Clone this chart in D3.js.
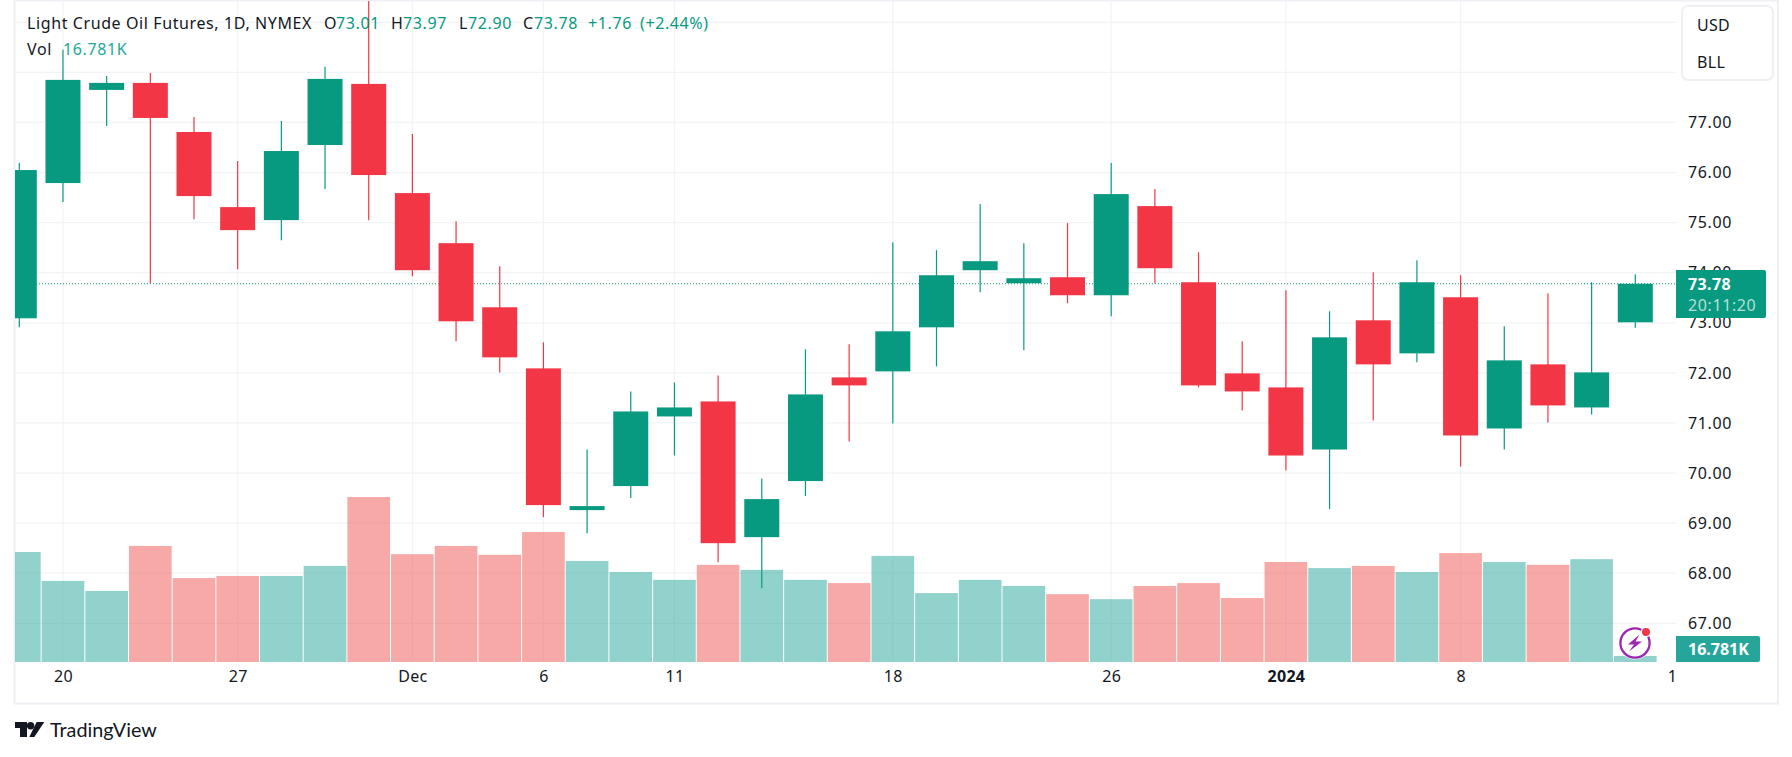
<!DOCTYPE html>
<html>
<head>
  <meta charset="utf-8">
  <script src="https://d3js.org/d3.v7.min.js"></script>
  <style>
    body { margin: 0; background: #fff; }
    text { font-family: "Noto Sans", sans-serif; fill: #131722; }
  </style>
</head>
<body>
  <svg width="1792" height="757"></svg>
  <script>
    // Daily bars, Nov 17 2023 - Jan 12 2024
    const dates = ['Nov 17', 'Nov 20', 'Nov 21', 'Nov 22', 'Nov 24', 'Nov 27', 'Nov 28', 'Nov 29', 'Nov 30',
      'Dec 1', 'Dec 4', 'Dec 5', 'Dec 6', 'Dec 7', 'Dec 8', 'Dec 11', 'Dec 12', 'Dec 13', 'Dec 14', 'Dec 15',
      'Dec 18', 'Dec 19', 'Dec 20', 'Dec 21', 'Dec 22', 'Dec 26', 'Dec 27', 'Dec 28', 'Dec 29',
      'Jan 2', 'Jan 3', 'Jan 4', 'Jan 5', 'Jan 8', 'Jan 9', 'Jan 10', 'Jan 11', 'Jan 12'];
    const opens = [73.09, 75.79, 77.65, 77.79, 76.81, 75.31, 75.05, 76.55, 77.77,
      75.59, 74.59, 73.31, 72.09, 69.26, 69.74, 71.13, 71.43, 68.72, 69.84, 71.91,
      72.03, 72.91, 74.05, 73.79, 73.91, 73.55, 75.33, 73.81, 71.99,
      71.71, 70.47, 73.05, 72.39, 73.51, 70.89, 72.17, 71.31, 73.01];
    const highs = [76.19, 78.45, 77.93, 77.99, 77.11, 76.23, 77.03, 78.11, 79.50,
      76.77, 75.03, 74.13, 72.61, 70.47, 71.63, 71.81, 71.95, 69.89, 72.47, 72.57,
      74.61, 74.45, 75.37, 74.59, 74.99, 76.19, 75.67, 74.41, 72.63,
      73.65, 73.23, 74.01, 74.25, 73.95, 72.93, 73.59, 73.81, 73.97];
    const lows = [72.91, 75.41, 76.93, 73.79, 75.07, 74.07, 74.65, 75.67, 75.05,
      73.93, 72.63, 72.01, 69.12, 68.80, 69.50, 70.35, 68.22, 67.70, 69.54, 70.63,
      70.99, 72.13, 73.61, 72.45, 73.39, 73.13, 73.79, 71.71, 71.25,
      70.05, 69.28, 71.05, 72.21, 70.13, 70.47, 71.01, 71.17, 72.90];
    const closes = [76.05, 77.85, 77.79, 77.09, 75.53, 74.85, 76.43, 77.87, 75.95,
      74.05, 73.03, 72.31, 69.36, 69.34, 71.23, 71.31, 68.60, 69.48, 71.57, 71.75,
      72.83, 73.95, 74.23, 73.89, 73.55, 75.57, 74.09, 71.75, 71.63,
      70.35, 72.71, 72.17, 73.81, 70.75, 72.25, 71.35, 72.01, 73.78];
    // volume in thousands
    const volumes = [308, 227, 199, 325, 235, 241, 241, 269, 462,
      302, 325, 300, 364, 283, 252, 230, 272, 258, 230, 221,
      297, 193, 230, 213, 190, 176, 213, 221, 179,
      280, 263, 269, 252, 305, 280, 272, 288, 16.781];

    const priceTicks = [67, 68, 69, 70, 71, 72, 73, 74, 75, 76, 77];
    const gridPrices = [67, 68, 69, 70, 71, 72, 73, 74, 75, 76, 77, 78, 79];
    const timeTickPos = [1, 5, 9, 12, 15, 20, 25, 29, 33, 38];
    const timeTickText = ['20', '27', 'Dec', '6', '11', '18', '26', '2024', '8', '1'];

    const lastPrice = 73.78;
    const legendTop = [['Light Crude Oil Futures, 1D, NYMEX', 27, 0], ['O', 324, 0], ['73.01', 336, 1], ['H', 391, 0], ['73.97', 403, 1],
      ['L', 459, 0], ['72.90', 468, 1], ['C', 523, 0], ['73.78', 534, 1], ['+1.76', 588, 1], ['(+2.44%)', 640, 1]];

    const green = '#089981', red = '#f23645';
    const gridColor = '#f2f3f6', borderColor = '#eff0f5';

    const pane = {left: 15, right: 1676, top: 1, bottom: 662};

    const svg = d3.select('svg');
    svg.append('defs').append('clipPath').attr('id', 'pane').append('rect')
      .attr('x', pane.left).attr('y', pane.top)
      .attr('width', pane.right - pane.left).attr('height', pane.bottom - pane.top);

    const x = d3.scaleLinear().domain([0, 37]).range([19.3, 1635.3]);
    const y = d3.scaleLinear().domain([79, 67]).range([22.3, 623.3]);
    const yVol = d3.scaleLinear().domain([0, 462]).range([pane.bottom, 497]);

    const idx = d3.range(dates.length);
    const isUp = i => closes[i] >= opens[i];
    const step = x(1) - x(0);

    // outer frame
    const frame = svg.append('g').attr('fill', 'none').attr('stroke', borderColor).attr('stroke-width', 2);
    frame.append('path').attr('d', `M14.5,0.5H1778V703.5H14.5Z`);

    const plot = svg.append('g').attr('clip-path', 'url(#pane)');

    // grid
    plot.append('g').selectAll('line').data(gridPrices).enter().append('line')
      .attr('x1', pane.left).attr('x2', pane.right)
      .attr('y1', d => y(d)).attr('y2', d => y(d))
      .attr('stroke', gridColor).attr('stroke-width', 1.2);
    plot.append('g').selectAll('line').data(timeTickPos.slice(0, -1)).enter().append('line')
      .attr('x1', d => x(d)).attr('x2', d => x(d))
      .attr('y1', pane.top).attr('y2', pane.bottom)
      .attr('stroke', gridColor).attr('stroke-width', 1.2);

    // volume
    plot.append('g').selectAll('rect').data(idx).enter().append('rect')
      .attr('x', i => x(i) - step / 2 + 0.5)
      .attr('width', step - 1)
      .attr('y', i => yVol(volumes[i]))
      .attr('height', i => pane.bottom - yVol(volumes[i]))
      .attr('fill', i => isUp(i) ? 'rgba(38,166,154,0.5)' : 'rgba(239,83,80,0.5)');

    // last price line
    plot.append('line')
      .attr('x1', pane.left).attr('x2', pane.right)
      .attr('y1', y(lastPrice)).attr('y2', y(lastPrice))
      .attr('stroke', green).attr('stroke-width', 1).attr('stroke-dasharray', '1 2');

    // candles
    const candles = plot.append('g');
    candles.selectAll('line').data(idx).enter().append('line')
      .attr('x1', i => x(i)).attr('x2', i => x(i))
      .attr('y1', i => y(highs[i])).attr('y2', i => y(lows[i]))
      .attr('stroke', i => isUp(i) ? green : red).attr('stroke-width', 1.2);
    candles.selectAll('rect').data(idx).enter().append('rect')
      .attr('x', i => x(i) - 17.5).attr('width', 35)
      .attr('y', i => y(Math.max(opens[i], closes[i])))
      .attr('height', i => Math.abs(y(opens[i]) - y(closes[i])))
      .attr('fill', i => isUp(i) ? green : red);

    // price axis
    const yAxis = svg.append('g').attr('transform', `translate(${pane.right},0)`)
      .call(d3.axisRight(y).tickValues(priceTicks).tickFormat(d3.format('.2f')).tickSize(0).tickPadding(12));
    yAxis.select('.domain').remove();
    yAxis.selectAll('text').style('font-family', '"Noto Sans", sans-serif').style('font-size', '16px')
      .style('letter-spacing', '0.6px').attr('fill', '#131722');

    // time axis
    const xAxis = svg.append('g').attr('transform', `translate(0,${pane.bottom})`)
      .call(d3.axisBottom(x).tickValues(timeTickPos).tickFormat((d, i) => timeTickText[i]).tickSize(0).tickPadding(9));
    xAxis.select('.domain').remove();
    xAxis.selectAll('text').style('font-family', '"Noto Sans", sans-serif').style('font-size', '16px')
      .style('letter-spacing', '0.3px').attr('fill', '#131722')
      .style('font-weight', (d, i) => timeTickText[i] === '2024' ? 700 : 400);
    // the future tick is pushed back inside the pane
    xAxis.selectAll('.tick').filter(d => d === 38).attr('transform', `translate(${pane.right - 3.5},0)`);

    // last price tag
    const tag = svg.append('g');
    tag.append('path').attr('d', 'M1676,270H1764a2,2 0 0 1 2,2V316a2,2 0 0 1 -2,2H1676Z').attr('fill', green);
    tag.append('text').attr('x', 1688).attr('y', 290).attr('font-size', 16).attr('font-weight', 700)
      .style('fill', '#fff').style('letter-spacing', '0.4px').text(d3.format('.2f')(lastPrice));
    tag.append('text').attr('x', 1688).attr('y', 311).attr('font-size', 16)
      .style('fill', 'rgba(255,255,255,0.7)').style('letter-spacing', '0.6px').text('20:11:20');

    // volume tag
    const volTag = svg.append('g');
    volTag.append('path').attr('d', 'M1676,636H1758a2,2 0 0 1 2,2V660a2,2 0 0 1 -2,2H1676Z').attr('fill', '#26a69a');
    volTag.append('text').attr('x', 1688).attr('y', 655).attr('font-size', 16).attr('font-weight', 700)
      .style('fill', '#fff').text('16.781K');

    // currency / unit box
    const unitBox = svg.append('g');
    unitBox.append('rect').attr('x', 1682).attr('y', 6).attr('width', 91).attr('height', 74).attr('rx', 6)
      .attr('fill', '#fff').attr('stroke', borderColor).attr('stroke-width', 2);
    ['USD', 'BLL'].forEach((t, i) => {
      unitBox.append('text').attr('x', 1697).attr('y', 30.5 + i * 37).attr('font-size', 16)
        .style('letter-spacing', '0.3px').text(t);
    });

    // legend
    const legend = svg.append('g').attr('font-size', 16);
    legendTop.forEach(d => {
      legend.append('text').attr('x', d[1]).attr('y', 29)
        .style('fill', d[2] ? green : '#131722').style('letter-spacing', '0.6px').text(d[0]);
    });
    legend.append('text').attr('x', 27).attr('y', 55).style('letter-spacing', '0.6px').text('Vol');
    legend.append('text').attr('x', 63).attr('y', 55).style('fill', '#26a69a').style('letter-spacing', '0.6px').text('16.781K');

    // replay badge
    const badge = svg.append('g').attr('transform', 'translate(1635,643)');
    badge.append('circle').attr('r', 16.5).attr('fill', '#fff').attr('opacity', 0.8);
    badge.append('circle').attr('r', 14.6).attr('fill', 'none').attr('stroke', '#9c27b0').attr('stroke-width', 2.3);
    badge.append('path').attr('d', 'M4.5,-8.5L-7,1.5H-1L-6,8.5L7,-1.5H0.5Z').attr('fill', '#9c27b0');
    badge.append('circle').attr('cx', 11).attr('cy', -11).attr('r', 5.2).attr('fill', '#fff');
    badge.append('circle').attr('cx', 11).attr('cy', -11).attr('r', 4).attr('fill', red);

    // logo
    const logo = svg.append('g').attr('transform', 'translate(15,722)').attr('fill', '#131722');
    logo.append('path').attr('d', 'M0,0H12V15H5V6H0Z');
    logo.append('circle').attr('cx', 15.6).attr('cy', 3.7).attr('r', 3.7);
    logo.append('path').attr('d', 'M21.6,0H29.3L19.3,15H14.3Z');
    svg.append('text').attr('x', 50).attr('y', 737).attr('font-size', 19.8).style('font-family', 'Lato, sans-serif')
      .text('TradingView');
  </script>
</body>
</html>
